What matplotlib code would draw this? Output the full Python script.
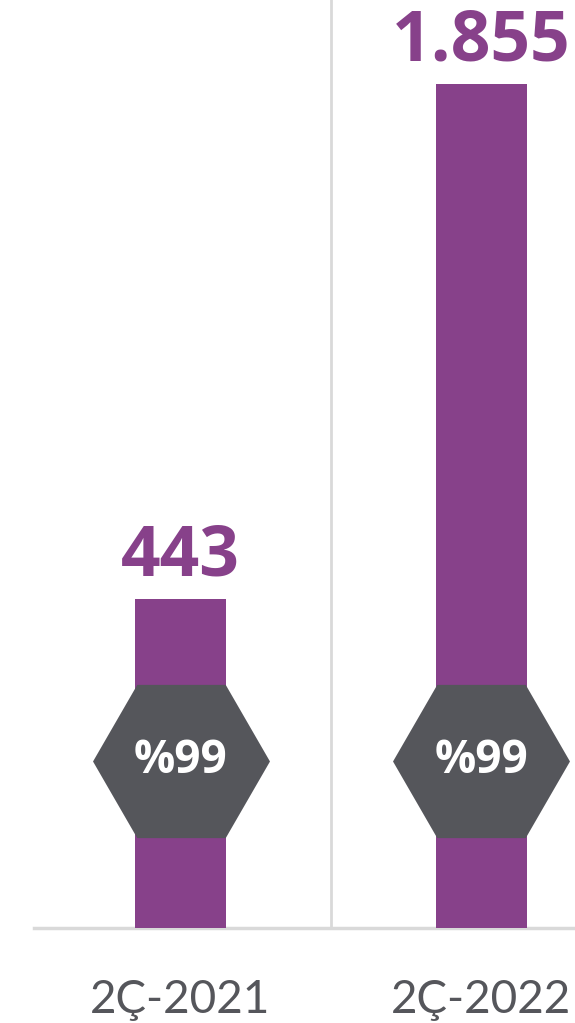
import matplotlib.pyplot as plt

# datos del grafico
donemler = ['2Ç-2021', '2Ç-2022']
degerler = [443, 1855]
deger_etiketleri = ['443', '1.855']
artis_etiketleri = ['%99', '%99']

# el eje no empieza en cero: el hexagono queda centrado en y=0
eksen_alt = -459
eksen_ust = 2086

mor = '#87418A'
gri = '#55565B'
cizgi = '#D9D9D9'

plt.rcParams['font.family'] = ['Lato', 'DejaVu Sans']
negrita = ['Open Sans', 'DejaVu Sans']  # fuente para los numeros en negrita

fig = plt.figure(figsize=(5.75, 10.23), dpi=100)
ax = fig.add_axes([0, 95 / 1023, 1, 928 / 1023])

x = list(range(len(donemler)))
ax.bar(x, [d - eksen_alt for d in degerler], bottom=eksen_alt, width=0.3, color=mor, zorder=2)

# linea divisoria y linea base
ax.axvline(0.5, color=cizgi, lw=2, zorder=1)
ax.axhline(eksen_alt, xmin=34 / 575, color=cizgi, lw=2.5, zorder=1, clip_on=False)

# hexagonos con el porcentaje
ax.plot(x, [0] * len(x), ls='none', marker='H', ms=127.4, color=gri, mew=0, zorder=3)
for i in x:
    ax.text(i, 0, artis_etiketleri[i], ha='center', va='center', color='white',
            fontsize=33, fontweight='bold', family=negrita, zorder=4)
    # valor encima de la barra
    ax.annotate(deger_etiketleri[i], (i, degerler[i]), xytext=(0, 17), textcoords='offset points',
                ha='center', va='baseline', color=mor, fontsize=50, fontweight='bold', family=negrita)
    # etiqueta del periodo
    ax.annotate(donemler[i], (i, eksen_alt), xytext=(0, -61), textcoords='offset points',
                ha='center', va='baseline', color=gri, fontsize=33, annotation_clip=False)

ax.set_xlim(-0.6, 1.311)
ax.set_ylim(eksen_alt, eksen_ust)
ax.axis('off')

fig.savefig('out.png', dpi=100)
